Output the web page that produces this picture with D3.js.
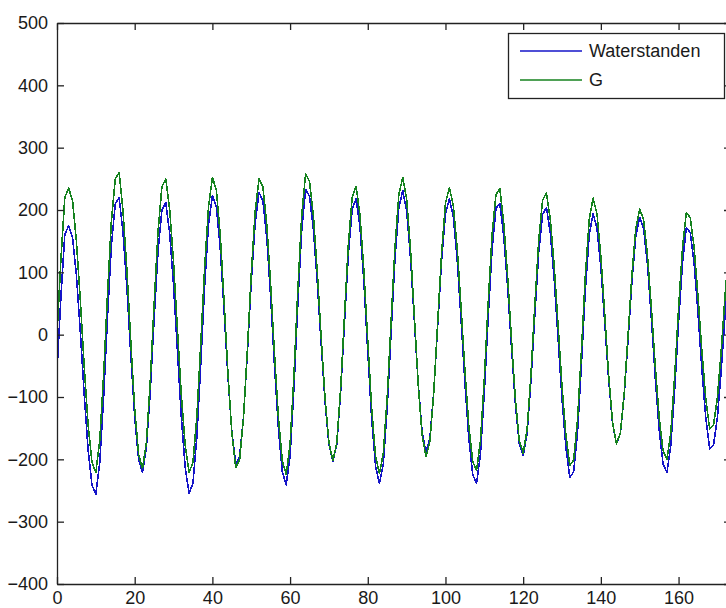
<!DOCTYPE html>
<html>
<head>
<meta charset="utf-8">
<script src="https://cdn.jsdelivr.net/npm/d3@7"></script>
<style>
  html, body { margin: 0; padding: 0; background: #fff; }
  svg { display: block; }
  text { font-family: "Liberation Sans", Arial, sans-serif; }
</style>
</head>
<body>
<svg id="chart" width="726" height="608"></svg>
<script>
// Hourly water levels (index = hour)
const waterstanden = [
  -60, 60, 160, 175, 156, 95, 5, -96, -184, -241,
  -256, -206, -101, 28, 143, 210, 220, 163, 74, -33,
  -132, -200, -221, -182, -92, 25, 133, 200, 212, 163,
  79, -27, -132, -213, -255, -238, -164, -48, 77, 176,
  223, 206, 140, 40, -67, -155, -207, -196, -133, -30,
  84, 178, 228, 215, 155, 60, -51, -151, -220, -241,
  -194, -85, 50, 168, 233, 222, 169, 84, -15, -108,
  -176, -203, -177, -94, 19, 129, 202, 218, 172, 84,
  -28, -135, -211, -239, -207, -118, 2, 121, 204, 231,
  199, 123, 21, -81, -157, -189, -165, -91, 15, 119,
  194, 218, 190, 121, 26, -77, -166, -224, -239, -192,
  -93, 28, 137, 203, 210, 158, 76, -21, -112, -175,
  -194, -159, -75, 32, 132, 193, 204, 162, 87, -8,
  -103, -181, -229, -220, -156, -48, 70, 160, 194, 171,
  107, 19, -72, -142, -175, -159, -98, -8, 86, 158,
  188, 170, 112, 26, -69, -152, -207, -221, -178, -89,
  19, 114, 172, 164, 115, 35, -55, -133, -183, -177,
  -133, -56, 34, 114
];

const seriesG = [
  0, 120, 220, 235, 215, 150, 55, -51, -144, -205,
  -221, -170, -65, 65, 182, 250, 260, 198, 103, -12,
  -119, -192, -215, -174, -76, 49, 165, 237, 250, 201,
  116, 9, -97, -178, -221, -205, -131, -16, 107, 205,
  252, 233, 162, 55, -61, -157, -213, -201, -134, -25,
  97, 197, 250, 237, 177, 80, -32, -133, -203, -224,
  -176, -65, 72, 192, 258, 246, 191, 101, -4, -102,
  -173, -202, -175, -88, 30, 145, 221, 238, 191, 102,
  -10, -118, -195, -223, -190, -101, 21, 140, 225, 252,
  218, 137, 28, -81, -162, -196, -171, -91, 20, 131,
  211, 236, 208, 140, 45, -57, -146, -203, -218, -170,
  -71, 51, 161, 225, 234, 179, 93, -9, -104, -170,
  -190, -153, -65, 47, 151, 216, 227, 184, 109, 14,
  -83, -161, -210, -201, -136, -26, 94, 185, 219, 194,
  126, 32, -65, -140, -175, -158, -95, -1, 96, 171,
  202, 184, 127, 43, -50, -132, -186, -200, -157, -67,
  42, 138, 196, 188, 140, 62, -26, -102, -151, -145,
  -101, -24, 65, 144
];

const seriesNames = ["Waterstanden", "G"];
const seriesColors = ["#1414c8", "#14821e"];
const xTicks = [0, 20, 40, 60, 80, 100, 120, 140, 160];
const yTicks = [-400, -300, -200, -100, 0, 100, 200, 300, 400, 500];

const svg = d3.select("#chart");
const plot = { left: 57, top: 23, right: 731, bottom: 584 };

const x = d3.scaleLinear().domain([0, 173.5]).range([plot.left, plot.right]);
const y = d3.scaleLinear().domain([-400, 500]).range([plot.bottom, plot.top]);

svg.append("rect").attr("width", 726).attr("height", 608).attr("fill", "#fff");

svg.append("defs").append("clipPath").attr("id", "plotclip")
  .append("rect")
  .attr("x", plot.left).attr("y", plot.top)
  .attr("width", plot.right - plot.left).attr("height", plot.bottom - plot.top);

// Series lines, one point per hour, drawn without anti-aliasing
const line = d3.line()
  .x((d, i) => x(i))
  .y(d => y(d));

const lines = svg.append("g").attr("clip-path", "url(#plotclip)");
[waterstanden, seriesG].forEach((data, k) => {
  lines.append("path")
    .datum(data)
    .attr("fill", "none")
    .attr("stroke", seriesColors[k])
    .attr("stroke-width", 1.6)
    .attr("stroke-linejoin", "round")
    .attr("shape-rendering", "crispEdges")
    .attr("d", line);
});

// Axes: ticks point inward on all four sides
const tickLen = 7;
const axisColor = "#222";
const fontSize = 18;

const bottomAxis = svg.append("g").attr("transform", `translate(0,${plot.bottom})`)
  .call(d3.axisBottom(x).tickValues(xTicks).tickSizeInner(-tickLen).tickSizeOuter(0));
const topAxis = svg.append("g").attr("transform", `translate(0,${plot.top})`)
  .call(d3.axisTop(x).tickValues(xTicks).tickSizeInner(-tickLen).tickSizeOuter(0).tickFormat(""));
const leftAxis = svg.append("g").attr("transform", `translate(${plot.left},0)`)
  .call(d3.axisLeft(y).tickValues(yTicks).tickSizeInner(-tickLen).tickSizeOuter(0));
const rightAxis = svg.append("g").attr("transform", `translate(${plot.right},0)`)
  .call(d3.axisRight(y).tickValues(yTicks).tickSizeInner(-tickLen).tickSizeOuter(0).tickFormat(""));

[bottomAxis, topAxis, leftAxis, rightAxis].forEach(g => {
  g.select(".domain").attr("stroke", axisColor).attr("stroke-width", 1.3);
  g.selectAll(".tick line").attr("stroke", axisColor).attr("stroke-width", 1.3);
  g.selectAll(".tick text")
    .attr("fill", "#1a1a1a")
    .style("font-size", fontSize + "px")
    .style("font-family", '"Liberation Sans", Arial, sans-serif');
});
bottomAxis.selectAll(".tick text").attr("dy", null).attr("y", 20);
leftAxis.selectAll(".tick text").attr("x", -9);

// Legend
const legend = svg.append("g");
legend.append("rect")
  .attr("x", 508.5).attr("y", 33.5)
  .attr("width", 216).attr("height", 65)
  .attr("fill", "#fff")
  .attr("stroke", axisColor).attr("stroke-width", 1.3);
seriesNames.forEach((name, k) => {
  const ly = 51 + k * 29;
  legend.append("line")
    .attr("x1", 520).attr("x2", 582)
    .attr("y1", ly).attr("y2", ly)
    .attr("stroke", seriesColors[k]).attr("stroke-width", 1.4);
  legend.append("text")
    .attr("x", 589).attr("y", ly)
    .attr("dy", "0.36em")
    .attr("fill", "#1a1a1a")
    .style("font-size", fontSize + "px")
    .text(name);
});
</script>
</body>
</html>
